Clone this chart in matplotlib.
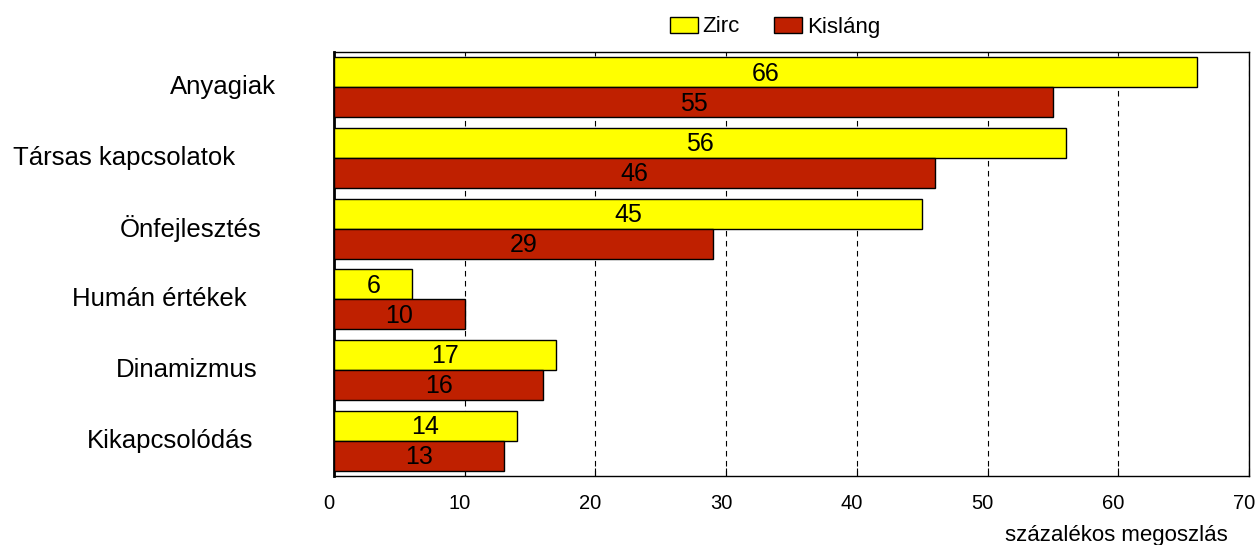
import matplotlib.pyplot as plt
import matplotlib.transforms as mtransforms
import numpy as np

plt.rcParams['font.family'] = ['Liberation Sans', 'DejaVu Sans']

categories = ['Anyagiak', 'Társas kapcsolatok', 'Önfejlesztés',
              'Humán értékek', 'Dinamizmus', 'Kikapcsolódás']
zirc = [66, 56, 45, 6, 17, 14]
kislang = [55, 46, 29, 10, 16, 13]
series_names = ['Zirc', 'Kisláng']
xticks = [0, 10, 20, 30, 40, 50, 60, 70]

# label centers (px) for the odd-looking category label placement
label_cx = [223, 124, 191, 159, 187, 170]

fig = plt.figure(figsize=(12.58, 5.45), dpi=100)
ax = fig.add_axes([334 / 1258, 1 - 476 / 545, 915 / 1258, 424 / 545])

y = np.arange(len(categories))
h = 0.425
b1 = ax.barh(y - h / 2, zirc, height=h, color='#FFFF00', edgecolor='black',
             linewidth=1, label=series_names[0], zorder=3)
b2 = ax.barh(y + h / 2, kislang, height=h, color='#BF2000', edgecolor='black',
             linewidth=1, label=series_names[1], zorder=3)

for bars, vals in ((b1, zirc), (b2, kislang)):
    for r, v in zip(bars, vals):
        ax.text(v / 2, r.get_y() + r.get_height() / 2 + 0.02, str(v), ha='center',
                va='center', fontsize=18, zorder=4)

ax.set_xlim(0, 70)
ax.set_ylim(len(categories) - 0.5, -0.5)
ax.set_xticks(xticks)
ax.set_yticks([])
ax.tick_params(axis='x', direction='in', length=6, labelsize=14.5, pad=13)
# tick labels sit a few px left of their ticks in the original
shift = mtransforms.ScaledTranslation(-5 / 100, 0, fig.dpi_scale_trans)
for lbl in ax.get_xticklabels():
    lbl.set_transform(lbl.get_transform() + shift)
ax.xaxis.grid(True, linestyle=(0, (5, 4)), color='black', linewidth=0.8, zorder=0)
ax.set_axisbelow(True)
for s in ax.spines.values():
    s.set_linewidth(1)
ax.spines['left'].set_linewidth(2)

trans = mtransforms.blended_transform_factory(fig.transFigure, ax.transData)
for cat, cx, yy in zip(categories, label_cx, y):
    ax.text(cx / 1258, yy, cat, transform=trans, ha='center', va='center',
            fontsize=18.5)

fig.text(1228 / 1258, 1 - 535 / 545, 'százalékos megoszlás', ha='right',
         va='center', fontsize=16)

fig.legend(handles=[b1, b2], loc='center', bbox_to_anchor=(775 / 1258, 1 - 27 / 545),
           ncol=2, frameon=False, fontsize=16, handlelength=1.26, handleheight=0.75,
           handletextpad=0.2, columnspacing=1.55)

fig.savefig('out.png', dpi=100)
